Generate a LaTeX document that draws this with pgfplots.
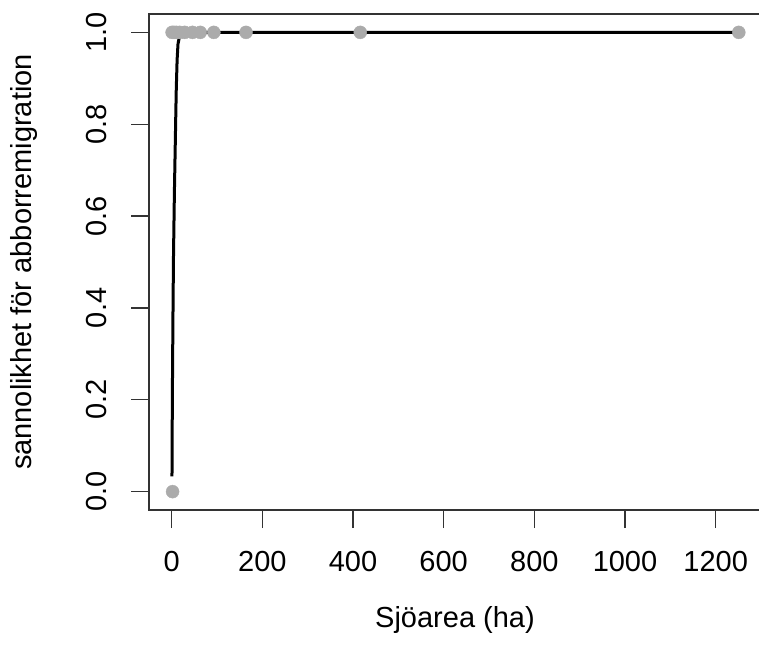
\documentclass[border=0pt]{standalone}
\usepackage{fontspec}
\setmainfont{Liberation Sans}
\usepackage{pgfplots}
\pgfplotsset{compat=1.18}
\definecolor{ptgray}{HTML}{ABABAB}
\definecolor{boxgray}{HTML}{333333}

\begin{document}
\fontsize{29pt}{34pt}\selectfont
\begin{tikzpicture}[x=1pt,y=1pt]
\begin{axis}[
    at={(149pt,139pt)}, anchor=south west,
    scale only axis,
    width=612pt, height=496pt,
    xmin=-50, xmax=1300,
    ymin=-0.04, ymax=1.04,
    xtick={0,200,...,1200},
    ytick={0,0.2,...,1.0},
    xticklabel style={/pgf/number format/1000 sep={}},
    yticklabel style={rotate=90, /pgf/number format/fixed, /pgf/number format/fixed zerofill, /pgf/number format/precision=1},
    /pgf/number format/assume math mode=true,
    tick align=outside,
    major tick length=18pt,
    tick style={boxgray, line width=1.2pt},
    axis line style={boxgray, line width=1.2pt},
    xtick pos=bottom, ytick pos=left,
    tick label style={font=\fontsize{29pt}{34pt}\selectfont, black},
    xticklabel style={yshift=-13pt},
    yticklabel style={yshift=14pt},
    xlabel={Sjöarea (ha)},
    ylabel={sannolikhet för abborremigration},
    label style={font=\fontsize{29pt}{34pt}\selectfont},
    xlabel style={yshift=-16pt},
    ylabel style={yshift=30pt},
    clip=false,
]
\addplot[only marks, mark=*, mark size=6.5pt, mark options={ptgray}]
  coordinates {(1,1) (5,1) (10,1) (18,1) (29,1) (46,1) (63,1) (93,1) (164,1) (416,1) (1251,1) (2,0)};
\addplot[black, line width=3pt] coordinates {
  (0.7,0.033) (1,0.1) (1.5,0.2) (2,0.27) (3,0.4) (4,0.51) (6,0.65) (8,0.76)
  (10,0.87) (12,0.94) (14,0.975) (17,0.99) (22,0.997) (30,1) (1251,1)};
\end{axis}
\pgfresetboundingbox
\path (0,0) rectangle (759,649);
\end{tikzpicture}
\end{document}
